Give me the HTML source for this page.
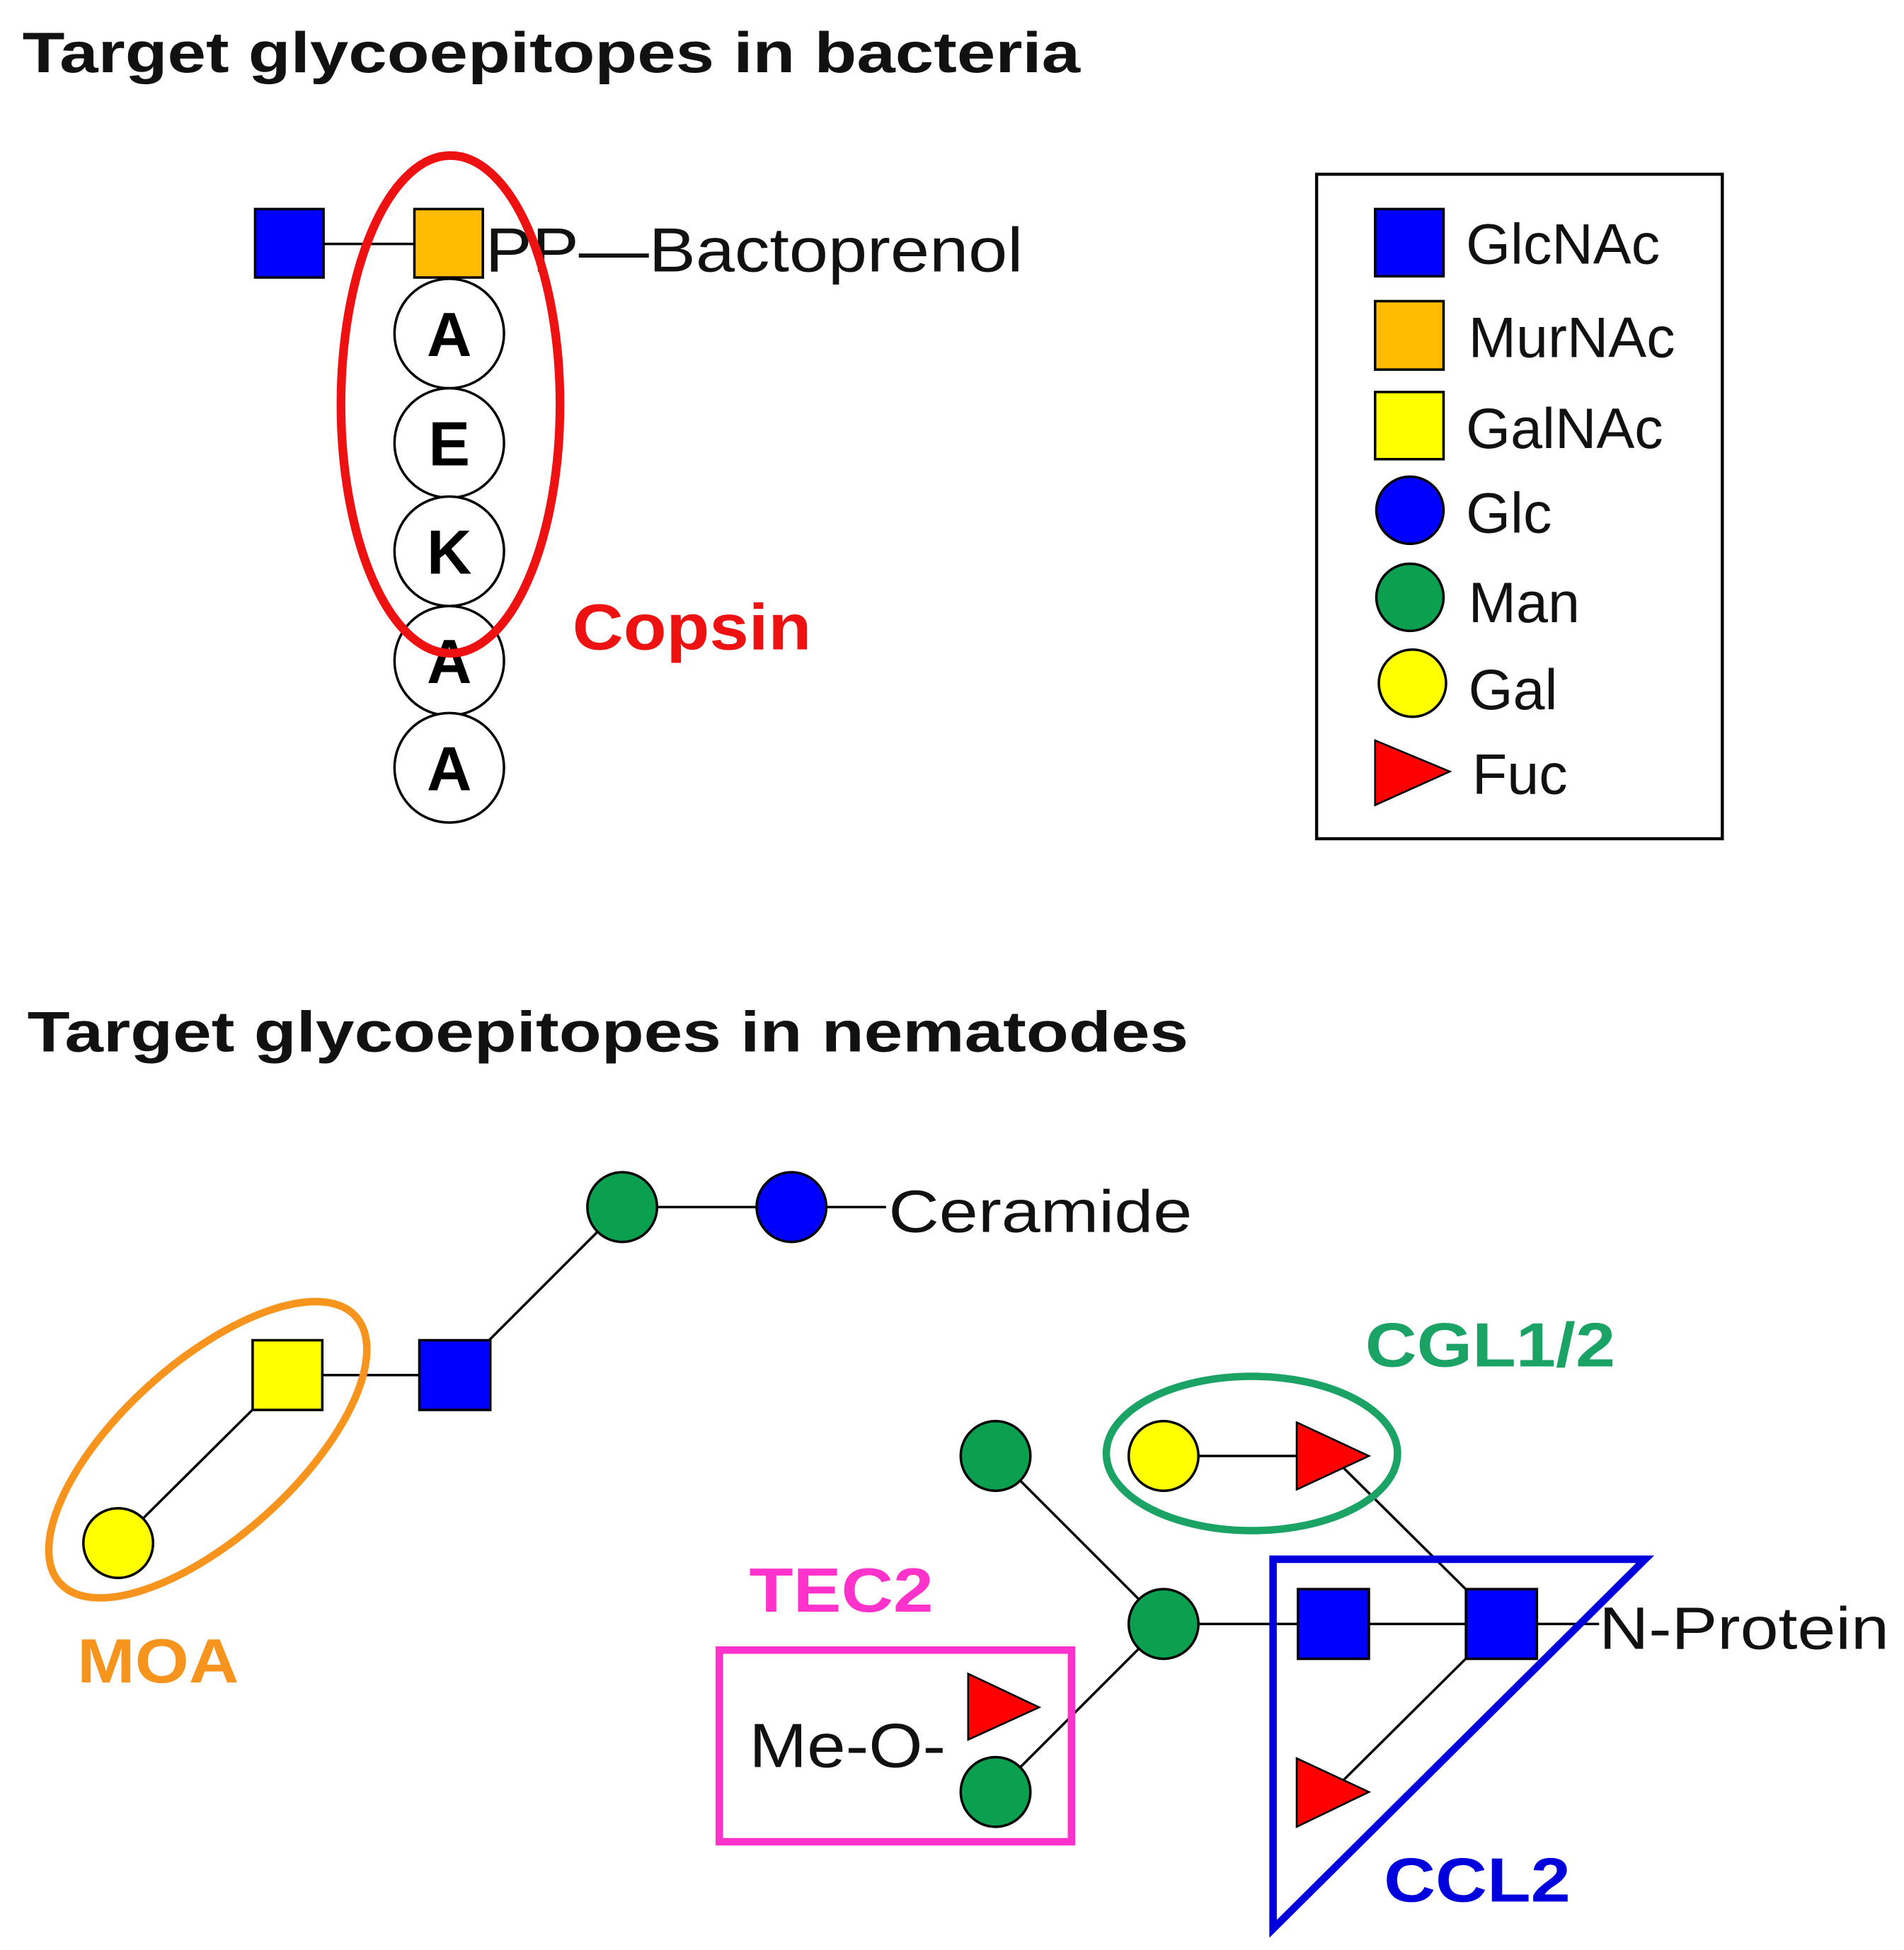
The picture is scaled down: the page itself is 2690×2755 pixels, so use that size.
<!DOCTYPE html>
<html><head><meta charset="utf-8"><style>html,body{margin:0;padding:0;background:#fff}svg{display:block}</style></head>
<body>
<svg width="2690" height="2755" viewBox="0 0 1530 1567" preserveAspectRatio="none" xmlns="http://www.w3.org/2000/svg" font-family="Liberation Sans, Arial, sans-serif">
<rect width="1530" height="1567" fill="#fff"/>
<text x="18" y="58" font-size="46" font-weight="bold" fill="#111" textLength="850" lengthAdjust="spacingAndGlyphs">Target glycoepitopes in bacteria</text>
<!-- bacteria -->
<line x1="260" y1="196" x2="333" y2="196" stroke="#000" stroke-width="2"/>
<rect x="205" y="168" width="55" height="55" fill="#0000ff" stroke="#000" stroke-width="2"/>
<rect x="333" y="168" width="55" height="55" fill="#ffbb00" stroke="#000" stroke-width="2"/>
<text x="390" y="218" font-size="50" fill="#111" textLength="432" lengthAdjust="spacingAndGlyphs">PP—Bactoprenol</text>
<g fill="#fff" stroke="#000" stroke-width="2">
<circle cx="361" cy="268" r="44"/><circle cx="361" cy="356" r="44"/><circle cx="361" cy="443" r="44"/><circle cx="361" cy="531" r="44"/><circle cx="361" cy="617" r="44"/>
</g>
<g font-size="50" font-weight="bold" text-anchor="middle" fill="#000">
<text x="361" y="286">A</text><text x="361" y="374">E</text><text x="361" y="461">K</text><text x="361" y="549">A</text><text x="361" y="635">A</text>
</g>
<ellipse cx="362" cy="325" rx="88" ry="200" fill="none" stroke="#ee1111" stroke-width="7"/>
<text x="460" y="522" font-size="52" font-weight="bold" fill="#ee1111" textLength="192" lengthAdjust="spacingAndGlyphs">Copsin</text>
<!-- legend -->
<rect x="1058" y="140" width="326" height="534" fill="none" stroke="#000" stroke-width="2.5"/>
<rect x="1105" y="168" width="55" height="54" fill="#0000ff" stroke="#000" stroke-width="2"/>
<rect x="1105" y="242" width="55" height="55" fill="#ffbb00" stroke="#000" stroke-width="2"/>
<rect x="1105" y="315" width="55" height="54" fill="#ffff00" stroke="#000" stroke-width="2"/>
<circle cx="1133" cy="410" r="27" fill="#0000ff" stroke="#000" stroke-width="2"/>
<circle cx="1133" cy="480" r="27" fill="#0aa050" stroke="#000" stroke-width="2"/>
<circle cx="1135" cy="549" r="27" fill="#ffff00" stroke="#000" stroke-width="2"/>
<polygon points="1105,595 1165,620 1105,647" fill="#ff0000" stroke="#000" stroke-width="1.5"/>
<g font-size="46" fill="#111">
<text x="1178" y="212">GlcNAc</text><text x="1180" y="287">MurNAc</text><text x="1178" y="360">GalNAc</text><text x="1178" y="428">Glc</text><text x="1180" y="500">Man</text><text x="1180" y="570">Gal</text><text x="1183" y="638">Fuc</text>
</g>
<text x="22" y="845" font-size="46" font-weight="bold" fill="#111" textLength="933" lengthAdjust="spacingAndGlyphs">Target glycoepitopes in nematodes</text>
<!-- nematodes lines -->
<g stroke="#000" stroke-width="2">
<line x1="500" y1="970" x2="712" y2="970"/>
<line x1="500" y1="970" x2="365" y2="1105"/>
<line x1="231" y1="1105" x2="365" y2="1105"/>
<line x1="231" y1="1105" x2="95" y2="1240"/>
<line x1="800" y1="1170" x2="935" y2="1305"/>
<line x1="935" y1="1305" x2="800" y2="1440"/>
<line x1="935" y1="1170" x2="1060" y2="1170"/>
<line x1="935" y1="1305" x2="1285" y2="1305"/>
<line x1="1075" y1="1175" x2="1206" y2="1305"/>
<line x1="1206" y1="1305" x2="1070" y2="1440"/>
</g>
<circle cx="500" cy="970" r="28" fill="#0aa050" stroke="#000" stroke-width="2"/>
<circle cx="636" cy="970" r="28" fill="#0000ff" stroke="#000" stroke-width="2"/>
<text x="714" y="990" font-size="48" fill="#111" textLength="244" lengthAdjust="spacingAndGlyphs">Ceramide</text>
<rect x="337" y="1077" width="57" height="56" fill="#0000ff" stroke="#000" stroke-width="2"/>
<rect x="203" y="1077" width="56" height="56" fill="#ffff00" stroke="#000" stroke-width="2"/>
<circle cx="95" cy="1240" r="28" fill="#ffff00" stroke="#000" stroke-width="2"/>
<ellipse cx="167" cy="1165" rx="160" ry="70" transform="rotate(-42 167 1165)" fill="none" stroke="#f7941d" stroke-width="6"/>
<text x="62" y="1352" font-size="50" font-weight="bold" fill="#f7941d" textLength="130" lengthAdjust="spacingAndGlyphs">MOA</text>
<circle cx="800" cy="1170" r="28" fill="#0aa050" stroke="#000" stroke-width="2"/>
<circle cx="935" cy="1305" r="28" fill="#0aa050" stroke="#000" stroke-width="2"/>
<circle cx="800" cy="1440" r="28" fill="#0aa050" stroke="#000" stroke-width="2"/>
<circle cx="935" cy="1170" r="28" fill="#ffff00" stroke="#000" stroke-width="2"/>
<polygon points="1042,1143 1100,1170 1042,1197" fill="#ff0000" stroke="#000" stroke-width="1.5"/>
<rect x="1043" y="1277" width="57" height="56" fill="#0000ff" stroke="#000" stroke-width="2"/>
<rect x="1178" y="1277" width="57" height="56" fill="#0000ff" stroke="#000" stroke-width="2"/>
<polygon points="1042,1413 1100,1440 1042,1468" fill="#ff0000" stroke="#000" stroke-width="1.5"/>
<polygon points="778,1345 835,1372 778,1398" fill="#ff0000" stroke="#000" stroke-width="1.5"/>
<text x="1285" y="1325" font-size="48" fill="#111" textLength="233" lengthAdjust="spacingAndGlyphs">N-Protein</text>
<ellipse cx="1006" cy="1168" rx="117" ry="62" fill="none" stroke="#1aa364" stroke-width="6"/>
<text x="1097" y="1098" font-size="50" font-weight="bold" fill="#1aa364" textLength="201" lengthAdjust="spacingAndGlyphs">CGL1/2</text>
<rect x="578" y="1326" width="283" height="154" fill="none" stroke="#ff33cc" stroke-width="6"/>
<text x="602" y="1295" font-size="50" font-weight="bold" fill="#ff33cc" textLength="148" lengthAdjust="spacingAndGlyphs">TEC2</text>
<text x="602" y="1420" font-size="50" fill="#111" textLength="158" lengthAdjust="spacingAndGlyphs">Me-O-</text>
<polygon points="1023,1253 1322,1253 1023,1550" fill="none" stroke="#0000dd" stroke-width="6" stroke-linejoin="miter"/>
<text x="1112" y="1528" font-size="50" font-weight="bold" fill="#0000dd" textLength="150" lengthAdjust="spacingAndGlyphs">CCL2</text>
</svg>
</body></html>
